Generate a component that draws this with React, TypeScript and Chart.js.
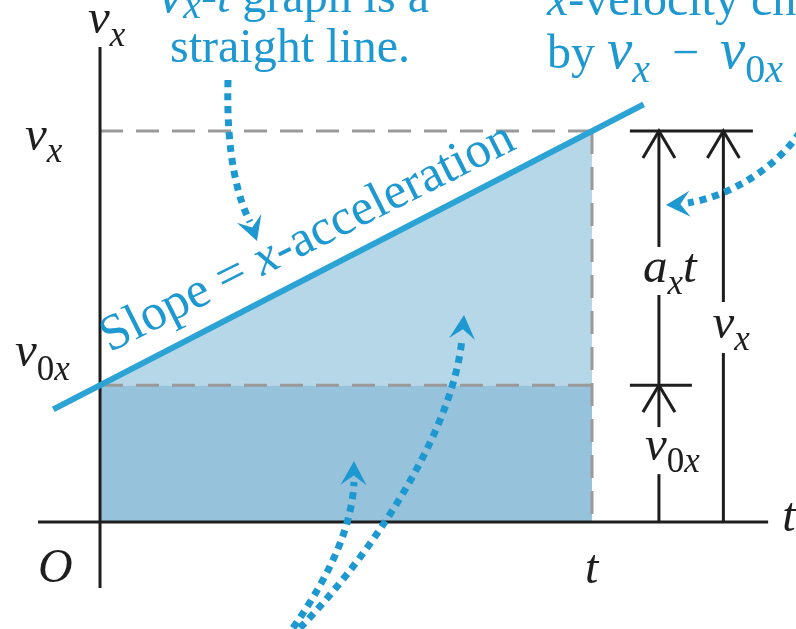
import React, { useEffect, useRef } from "react";
import { Chart, registerables } from "chart.js";
Chart.register(...registerables);

// ---- data (graph units: t horizontal, v vertical) ----
const timeMarks = [0, 10]; // 0 and t
const velocityMarks = [3.5, 10]; // v0x and vx
const slopeLineT = [-0.95, 11.05];
const slopeLineV = [2.88, 10.68];
const axisT = [-1.26, 13.58];
const axisV = [-1.69, 12.15];
const dimColumnsT = [11.36, 12.67];
const dimBarT = [10.77, 13.27, 12.03];

const BLUE = "#1d98d0";
const LINE_BLUE = "#2ba3d4";
const LIGHT = "#b6d7e7";
const DARK = "#96c3db";
const GRAY = "#9a9a9a";
const BLACK = "#1e1e1e";

const SERIF = '"Liberation Serif", "DejaVu Serif", serif';

type Part = [string, string, number];

function runs(ctx: CanvasRenderingContext2D, x: number, y: number, parts: Part[]) {
  let cx = x;
  for (const [txt, font, dy] of parts) {
    ctx.font = font;
    ctx.fillText(txt, cx, y + dy);
    cx += ctx.measureText(txt).width;
  }
  return cx;
}

function barb(ctx: CanvasRenderingContext2D, tx: number, ty: number, ang: number, len = 24, half = 13) {
  const c = Math.cos(ang), s = Math.sin(ang);
  const p = (a: number, b: number) => [tx - a * c - b * s, ty - a * s + b * c];
  const l = p(len, half), n = p(len * 0.6, 0), r = p(len, -half);
  ctx.beginPath();
  ctx.moveTo(tx, ty);
  ctx.lineTo(l[0], l[1]);
  ctx.lineTo(n[0], n[1]);
  ctx.lineTo(r[0], r[1]);
  ctx.closePath();
  ctx.fill();
}

const annotations = {
  id: "annotations",
  afterDatasetsDraw(chart: any) {
    const ctx: CanvasRenderingContext2D = chart.ctx;
    const X = (t: number) => chart.scales.x.getPixelForValue(t);
    const Y = (v: number) => chart.scales.y.getPixelForValue(v);
    const [t0, t1] = timeMarks;
    const [v0, v1] = velocityMarks;
    ctx.save();

    // dimension lines
    ctx.strokeStyle = BLACK;
    ctx.lineWidth = 3;
    ctx.setLineDash([]);
    const seg = (x1: number, y1: number, x2: number, y2: number) => {
      ctx.beginPath();
      ctx.moveTo(x1, y1);
      ctx.lineTo(x2, y2);
      ctx.stroke();
    };
    const c1 = X(dimColumnsT[0]), c2 = X(dimColumnsT[1]);
    const yTop = Y(v1), yMid = Y(v0), yBot = Y(0);
    seg(X(dimBarT[0]), yTop, X(dimBarT[1]), yTop);
    seg(X(dimBarT[0]), yMid, X(dimBarT[2]), yMid);
    seg(c1, yTop, c1, yTop + 116);
    seg(c1, yTop + 164, c1, yMid);
    seg(c1, yMid, c1, yMid + 42);
    seg(c1, yMid + 89, c1, yBot);
    seg(c2, yTop, c2, yTop + 171);
    seg(c2, yTop + 222, c2, yBot);
    const chevron = (x: number, y: number) => {
      ctx.beginPath();
      ctx.moveTo(x - 16, y + 27);
      ctx.lineTo(x, y);
      ctx.lineTo(x + 16, y + 27);
      ctx.stroke();
    };
    chevron(c1, yTop);
    chevron(c2, yTop);
    chevron(c1, yMid);

    // black math labels
    ctx.fillStyle = BLACK;
    ctx.textAlign = "left";
    ctx.textBaseline = "alphabetic";
    const I = `italic 49px ${SERIF}`;
    const IS = `italic 35px ${SERIF}`;
    const RS = `35px ${SERIF}`;
    runs(ctx, c1 - 16, yTop + 151, [["a", I, 0], ["x", IS, 12], ["t", I, 0]]);
    runs(ctx, c2 - 11, yTop + 207, [["v", I, 0], ["x", IS, 12]]);
    runs(ctx, c1 - 14, yMid + 75, [["v", I, 0], ["0", RS, 12], ["x", IS, 12]]);
    runs(ctx, X(0) - 12, 33, [["v", I, 0], ["x", IS, 13]]);
    runs(ctx, X(0) - 75, yTop + 19, [["v", I, 0], ["x", IS, 12]]);
    runs(ctx, X(0) - 85, yMid - 19, [["v", I, 0], ["0", RS, 14], ["x", IS, 14]]);
    ctx.font = `italic 48px ${SERIF}`;
    ctx.fillText("O", X(0) - 62, yBot + 60);
    ctx.fillText("t", X(t1) - 7, yBot + 61);
    ctx.fillText("t", X(axisT[1]) + 14, yBot + 9);

    // blue captions
    ctx.fillStyle = BLUE;
    const B = `48px ${SERIF}`;
    const BI = `italic 48px ${SERIF}`;
    const BV = `italic 57px ${SERIF}`;
    const BS = `italic 40px ${SERIF}`;
    const BR = `40px ${SERIF}`;
    runs(ctx, 158, 12, [["v", BV, 0], ["x", BS, 6], ["-", B, 0], ["t", BI, 0], [" graph is a", B, 0]]);
    runs(ctx, 170, 62, [["straight line.", B, 0]]);
    runs(ctx, 547, 15, [["x", BI, 0], ["-velocity change is", B, 0]]);
    let cx = runs(ctx, 547, 68, [["by ", B, 0], ["v", BV, 0], ["x", BS, 14]]);
    ctx.font = B;
    ctx.fillText("\u2212", cx + 22, 68);
    runs(ctx, cx + 70, 68, [["v", BV, 0], ["0", BR, 14], ["x", BS, 14]]);

    // rotated slope label
    ctx.save();
    ctx.translate(X(0.2), Y(4.33));
    ctx.rotate(-Math.atan2(Y(v0) - Y(v1), X(t1) - X(t0)) + 0.012);
    runs(ctx, 0, 0, [["Slope = ", `51px ${SERIF}`, 0], ["x", `italic 51px ${SERIF}`, 0], ["-acceleration", `51px ${SERIF}`, 0]]);
    ctx.restore();

    // dotted arrows
    ctx.strokeStyle = BLUE;
    ctx.lineWidth = 7;
    ctx.lineCap = "butt";
    ctx.setLineDash([7, 6]);
    const curve = (p: number[]) => {
      ctx.beginPath();
      ctx.moveTo(p[0], p[1]);
      ctx.bezierCurveTo(p[2], p[3], p[4], p[5], p[6], p[7]);
      ctx.stroke();
    };
    curve([228, 80, 226, 155, 238, 198, 250, 222]);
    curve([800, 132, 776, 168, 730, 196, 688, 203]);
    curve([293, 628, 332, 572, 352, 525, 354, 482]);
    curve([300, 628, 385, 540, 455, 420, 462, 338]);
    ctx.setLineDash([]);
    ctx.fillStyle = BLUE;
    barb(ctx, 257, 241, Math.atan2(1, 0.35));
    barb(ctx, 666, 205, Math.atan2(0.05, -1));
    barb(ctx, 354, 461, Math.atan2(-1, 0.02));
    barb(ctx, 464, 315, Math.atan2(-1, 0.08));
    ctx.restore();
  },
};

export default function App() {
  const ref = useRef<HTMLCanvasElement>(null);
  useEffect(() => {
    const [t0, t1] = timeMarks;
    const [v0, v1] = velocityMarks;
    const dash = { borderColor: GRAY, borderWidth: 3, borderDash: [23, 13], pointRadius: 0, showLine: true, fill: false };
    const chart = new Chart(ref.current!, {
      type: "scatter",
      data: {
        datasets: [
          { data: [{ x: slopeLineT[0], y: slopeLineV[0] }, { x: slopeLineT[1], y: slopeLineV[1] }], borderColor: LINE_BLUE, borderWidth: 6, pointRadius: 0, showLine: true, fill: false, order: 0 },
          { data: [{ x: axisT[0], y: 0 }, { x: axisT[1], y: 0 }], borderColor: BLACK, borderWidth: 3, pointRadius: 0, showLine: true, fill: false, order: 1 },
          { data: [{ x: 0, y: axisV[0] }, { x: 0, y: axisV[1] }], borderColor: BLACK, borderWidth: 3, pointRadius: 0, showLine: true, fill: false, order: 1 },
          { ...dash, data: [{ x: t0, y: v1 }, { x: t1, y: v1 }], order: 2 },
          { ...dash, data: [{ x: t0, y: v0 }, { x: t1, y: v0 }], order: 2 },
          { ...dash, data: [{ x: t1, y: v1 }, { x: t1, y: 0 }], order: 2 },
          { data: [{ x: t0, y: v0 }, { x: t1, y: v1 }], borderWidth: 0, borderColor: "rgba(0,0,0,0)", backgroundColor: LIGHT, pointRadius: 0, showLine: true, fill: { value: v0 }, order: 5 },
          { data: [{ x: t0, y: v0 }, { x: t1, y: v0 }], borderWidth: 0, borderColor: "rgba(0,0,0,0)", backgroundColor: DARK, pointRadius: 0, showLine: true, fill: "origin", order: 5 },
        ],
      },
      options: {
        animation: false,
        responsive: false,
        maintainAspectRatio: false,
        layout: { padding: 0 },
        plugins: { legend: { display: false }, tooltip: { enabled: false }, filler: { propagate: false } },
        scales: {
          x: { type: "linear", display: false, min: -2.033, max: 14.146 },
          y: { type: "linear", display: false, min: -2.737, max: 13.35 },
        },
        elements: { line: { tension: 0 } },
      },
      plugins: [annotations],
    });
    return () => chart.destroy();
  }, []);
  return (
    <div style={{ position: "fixed", left: 0, top: 0, width: 796, height: 629, background: "#fff" }}>
      <canvas ref={ref} width={796} height={629} style={{ display: "block" }} />
    </div>
  );
}
